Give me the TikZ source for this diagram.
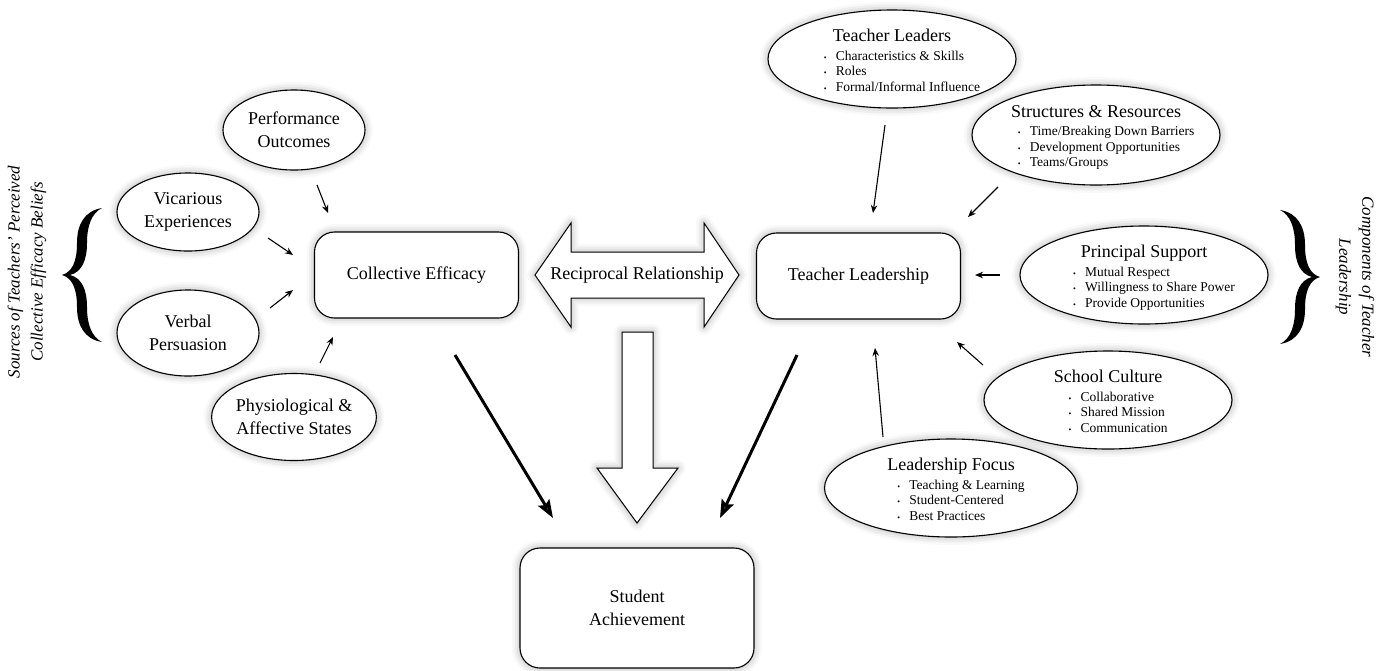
\documentclass[tikz,border=0pt]{standalone}
\usepackage{fontspec}
\setmainfont{Liberation Serif}
\usetikzlibrary{arrows.meta,shapes.geometric,shadows.blur}

\newcommand\titlefont{\fontsize{18}{23}\selectfont}
\newcommand\itemfont{\fontsize{13.5}{15.5}\selectfont}
\newcommand\bul{\makebox[12pt][l]{\fontsize{8}{8}\selectfont\textbullet}}
% zero-size box, so the ellipse keeps its own size
\newcommand\ovaltext[4]{\raisebox{-7pt}[0pt][0pt]{\makebox[0pt]{%
  \begin{tabular}{@{}c@{}}{\titlefont #1}\\[3pt]
  \hspace*{20pt}\begin{tabular}[t]{@{}l@{}}\bul #2\\ \bul #3\\ \bul #4\end{tabular}\end{tabular}}}}

\tikzset{
  glow/.style={blur shadow={shadow xshift=0pt,shadow yshift=0pt,
      shadow blur radius=8pt,shadow opacity=35}},
  source/.style={ellipse,draw,line width=1.1pt,fill=white,glow,
      minimum width=142pt,minimum height=82pt,inner sep=0pt,align=center,font=\titlefont},
  component/.style={ellipse,draw,line width=1.1pt,fill=white,glow,
      minimum width=248pt,minimum height=98pt,inner sep=0pt,font=\itemfont},
  mainbox/.style={rectangle,rounded corners=20pt,draw,line width=1.1pt,fill=white,glow,
      minimum width=204pt,minimum height=86pt,align=center,font=\titlefont},
  feed/.style={-{Stealth[length=8pt,width=6.5pt]},line width=1.1pt},
  impact/.style={-{Stealth[length=18pt,width=13pt,inset=3pt]},line width=3pt},
  blockarrow/.style={draw,line width=1pt,fill=white,glow},
  sidelabel/.style={align=center,font=\fontsize{17}{23}\selectfont\itshape},
  bracefig/.pic={
    \fill (40,-67) .. controls (22,-64) and (15,-50) .. (15,-32)
      .. controls (15,-13) and (10,-3) .. (0,0)
      .. controls (10,3) and (15,13) .. (15,32)
      .. controls (15,50) and (22,64) .. (40,67)
      .. controls (30,62) and (25,50) .. (25,32)
      .. controls (25,15) and (20,3) .. (8,0)
      .. controls (20,-3) and (25,-15) .. (25,-32)
      .. controls (25,-50) and (30,-62) .. (40,-67) -- cycle;
  }
}

\begin{document}
\begin{tikzpicture}[x=1pt,y=-1pt]
    \useasboundingbox (0,0) rectangle (1383,670);

    % sources of collective efficacy
    \node[source,minimum height=80pt] (perf) at (294,130) {Performance\\Outcomes};
    \node[source,minimum height=78pt] (vic) at (188,212) {Vicarious\\Experiences};
    \node[source,minimum height=86pt] (verb) at (188,333) {Verbal\\Persuasion};
    \node[source,minimum height=87pt] (phys) at (294,417) {Physiological \&\\Affective States};

    % main boxes
    \node[mainbox] (ce) at (416.5,275) {Collective Efficacy};
    \node[mainbox] (tlead) at (858.5,276) {Teacher Leadership};
    \node[mainbox,minimum width=234pt,minimum height=120pt] (sa) at (637,608) {Student\\Achievement};

    % components of teacher leadership
    \node[component] (tl) at (892,59)
        {\ovaltext{Teacher Leaders}{Characteristics \& Skills}{Roles}{Formal/Informal Influence}};
    \node[component,minimum height=100pt] (sr) at (1096,135)
        {\ovaltext{Structures \& Resources}{Time/Breaking Down Barriers}{Development Opportunities}{Teams/Groups}};
    \node[component] (ps) at (1144,275)
        {\ovaltext{Principal Support}{Mutual Respect}{Willingness to Share Power}{Provide Opportunities}};
    \node[component] (sc) at (1108,400)
        {\ovaltext{School Culture}{Collaborative}{Shared Mission}{Communication}};
    \node[component,minimum width=253pt] (lf) at (951,488)
        {\ovaltext{Leadership Focus}{Teaching \& Learning}{Student-Centered}{Best Practices}};

    % block arrows
    \draw[blockarrow] (535,275) -- (571,223) -- (571,252) -- (704,252) -- (704,223)
        -- (739,275) -- (704,327) -- (704,298) -- (571,298) -- (571,327) -- cycle;
    \node[font=\titlefont] (recip) at (637,275) {Reciprocal Relationship};
    \draw[blockarrow] (622,332) -- (653,332) -- (653,468) -- (678,468) -- (637,523)
        -- (597,468) -- (622,468) -- cycle;

    % arrow ends
    \coordinate (perf-a) at (317,185);  \coordinate (perf-b) at (328,213);
    \coordinate (vic-a) at (268,238);   \coordinate (vic-b) at (293,255);
    \coordinate (verb-a) at (270,308);  \coordinate (verb-b) at (293,290);
    \coordinate (phys-a) at (320,363);  \coordinate (phys-b) at (333,337);
    \coordinate (tl-a) at (885,125);    \coordinate (tl-b) at (873,213);
    \coordinate (sr-a) at (998,187);    \coordinate (sr-b) at (968,217);
    \coordinate (ps-a) at (1000,275);   \coordinate (ps-b) at (975,275);
    \coordinate (sc-a) at (983,365);    \coordinate (sc-b) at (957,342);
    \coordinate (lf-a) at (883,437);    \coordinate (lf-b) at (875,348);
    \coordinate (ce-a) at (455,355);    \coordinate (ce-b) at (553,518);
    \coordinate (tlead-a) at (797,355); \coordinate (tlead-b) at (720,518);

    \foreach \n in {perf,vic,verb,phys,tl,sr,ps,sc,lf}
        \draw[feed] (\n-a) -- (\n-b);
    \draw[impact] (ce-a) -- (ce-b);
    \draw[impact] (tlead-a) -- (tlead-b);

    % braces and side labels
    \pic at (62,275) {bracefig};
    \pic[xscale=-1] at (1320,277) {bracefig};
    \node[sidelabel,rotate=90] (srclab) at (27,272)
        {Sources of Teachers' Perceived\\Collective Efficacy Beliefs};
    \node[sidelabel,rotate=-90] (complab) at (1355,277)
        {Components of Teacher\\Leadership};
\end{tikzpicture}
\end{document}
